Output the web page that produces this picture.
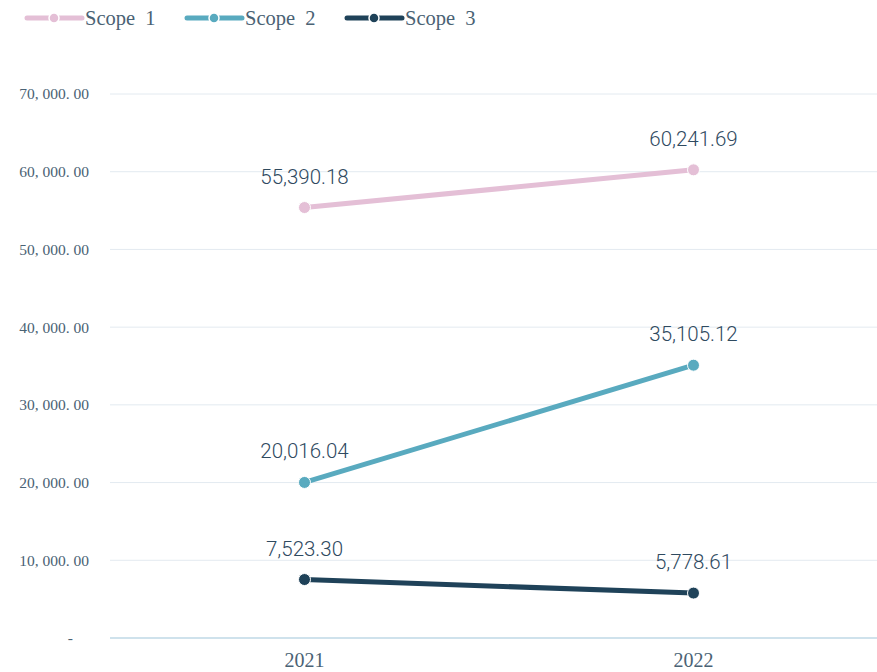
<!DOCTYPE html>
<html>
<head>
<meta charset="utf-8">
<script src="https://cdn.jsdelivr.net/npm/d3@7"></script>
<style>
  body { margin: 0; background: #fff; }
</style>
</head>
<body>
<div id="chart"></div>
<script>
const years = ['2021', '2022']
const seriesNames = ['Scope 1', 'Scope 2', 'Scope 3']
const scope1 = [55390.18, 60241.69]
const scope2 = [20016.04, 35105.12]
const scope3 = [7523.3, 5778.61]
const yTicks = [0, 10000, 20000, 30000, 40000, 50000, 60000, 70000]
const colors = ['#e4bfd6', '#59aabf', '#1f4259']

const width = 877
const height = 672
const margin = { top: 94, left: 110, right: -11, bottom: 34 }

const svg = d3
  .select('#chart')
  .append('svg')
  .attr('width', width)
  .attr('height', height)

const xPositionScale = d3
  .scalePoint()
  .domain(years)
  .range([margin.left, width - margin.right])
  .padding(0.5)

const yPositionScale = d3
  .scaleLinear()
  .domain([0, 70000])
  .range([height - margin.bottom, margin.top])

const fmt = d3.format(',.2f')

// gridlines
svg
  .selectAll('.grid')
  .data(yTicks.filter(d => d > 0))
  .enter()
  .append('line')
  .attr('x1', margin.left)
  .attr('x2', width)
  .attr('y1', d => yPositionScale(d))
  .attr('y2', d => yPositionScale(d))
  .attr('stroke', '#e3eaf0')
  .attr('stroke-width', 1)

// baseline
svg
  .append('line')
  .attr('x1', margin.left)
  .attr('x2', width)
  .attr('y1', yPositionScale(0))
  .attr('y2', yPositionScale(0))
  .attr('stroke', '#cfe2ec')
  .attr('stroke-width', 2)

// y tick labels
svg
  .selectAll('.ytick')
  .data(yTicks)
  .enter()
  .append('text')
  .attr('y', d => yPositionScale(d))
  .attr('dy', '0.35em')
  .attr('text-anchor', 'end')
  .attr('font-family', 'Liberation Serif, serif')
  .attr('font-size', 15.5)
  .attr('fill', '#4a6274')
  .style('white-space', 'pre')
  .text(d => (d === 0 ? '-' : fmt(d).replace(',', ', ').replace('.', '. ')))
  .attr('x', d => (d === 0 ? 73 : 89))

// x labels
svg
  .selectAll('.xtick')
  .data(years)
  .enter()
  .append('text')
  .attr('x', d => xPositionScale(d))
  .attr('y', 667)
  .attr('text-anchor', 'middle')
  .attr('font-family', 'Liberation Serif, serif')
  .attr('font-size', 20)
  .attr('fill', '#4a6274')
  .text(d => d)

const allSeries = [scope1, scope2, scope3].map((values, i) => ({
  name: seriesNames[i],
  color: colors[i],
  values: values.map((v, j) => ({ year: years[j], value: v }))
}))

const line = d3
  .line()
  .x(d => xPositionScale(d.year))
  .y(d => yPositionScale(d.value))

allSeries.forEach(s => {
  svg
    .append('path')
    .datum(s.values)
    .attr('d', line)
    .attr('fill', 'none')
    .attr('stroke', s.color)
    .attr('stroke-width', 5)

  svg
    .selectAll(null)
    .data(s.values)
    .enter()
    .append('circle')
    .attr('cx', d => xPositionScale(d.year))
    .attr('cy', d => yPositionScale(d.value))
    .attr('r', 6)
    .attr('fill', s.color)
    .attr('stroke', '#fff')
    .attr('stroke-width', 1)

  svg
    .selectAll(null)
    .data(s.values)
    .enter()
    .append('text')
    .attr('x', d => xPositionScale(d.year))
    .attr('y', d => yPositionScale(d.value) - 24)
    .attr('text-anchor', 'middle')
    .attr('font-family', 'Roboto, sans-serif')
    .attr('font-weight', 300)
    .attr('font-size', 20.5)
    .attr('fill', '#2f4a5f')
    .text(d => fmt(d.value))
})

// legend
const legend = svg
  .selectAll('.legend')
  .data(allSeries)
  .enter()
  .append('g')
  .attr('transform', (d, i) => `translate(${27 + i * 160},18)`)

legend
  .append('line')
  .attr('x1', 0)
  .attr('x2', 55)
  .attr('stroke', d => d.color)
  .attr('stroke-width', 5)
  .attr('stroke-linecap', 'round')

legend
  .append('circle')
  .attr('cx', 27)
  .attr('r', 5)
  .attr('fill', d => d.color)
  .attr('stroke', '#fff')
  .attr('stroke-width', 1.5)

legend
  .append('text')
  .attr('x', 58)
  .attr('dy', '0.35em')
  .attr('font-family', 'Liberation Serif, serif')
  .attr('font-size', 20.5)
  .attr('fill', '#4a6274')
  .style('white-space', 'pre')
  .text(d => d.name.replace(' ', '  '))
</script>
</body>
</html>
